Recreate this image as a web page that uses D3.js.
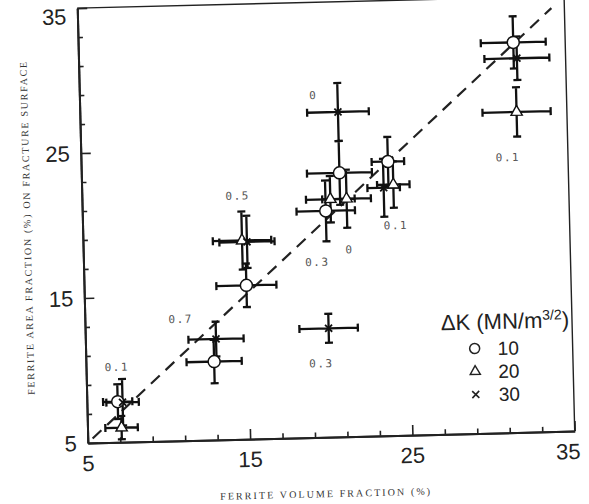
<!DOCTYPE html>
<html>
<head>
<meta charset="utf-8">
<script src="https://cdn.jsdelivr.net/npm/d3@7"></script>
<style>
  body { margin: 0; background: #fff; }
</style>
</head>
<body>
<svg id="chart" width="589" height="504"></svg>
<script>
// each point: [volume fraction, area fraction, +/- x err, +/- y err]
var k10 = [[31.8, 31.9, 2.0, 1.8], [20.9, 23.2, 2.0, 2.2], [23.9, 23.9, 1.0, 1.7],
           [20.0, 20.6, 1.8, 2.1], [15.0, 15.6, 1.85, 1.5], [12.9, 10.4, 1.7, 1.5],
           [6.9, 7.8, 0.9, 1.2]];
var k20 = [[31.9, 27.1, 2.1, 1.7], [24.2, 22.3, 1.0, 1.6], [20.3, 21.4, 1.5, 1.6],
           [21.3, 21.4, 1.5, 2.0], [14.8, 18.7, 1.8, 2.0], [7.1, 6.0, 1.0, 0.8]];
var k30 = [[32.0, 30.8, 2.0, 1.5], [20.9, 27.4, 1.9, 2.0], [23.6, 22.1, 1.0, 2.0],
           [15.1, 18.6, 1.7, 1.8], [13.05, 11.95, 1.7, 1.2], [20.0, 12.5, 1.8, 1.0],
           [7.2, 7.75, 1.0, 1.6]];

// R ratio labels written next to the groups
var rLabels = ["0.1", "0.1", "0", "0.5", "0.3", "0", "0.7", "0.3", "0.1"];
var rLabelX = [31.3, 24.3, 19.4, 14.6, 19.4, 21.4, 10.9, 19.5, 6.9];
var rLabelY = [24.0, 19.5, 28.6, 21.8, 17.1, 17.9, 13.4, 10.1, 10.2];

var majorTicks = [5, 15, 25, 35];
var minorTicks = [7, 9, 11, 13, 17, 19, 21, 23, 27, 29, 31, 33];
var legendK = ["10", "20", "30"];
var legendShape = ["circle", "triangle", "x"];
var equalityLine = [[5.3, 5.3], [34.2, 34.2]];

var svg = d3.select("#chart");

// the scanned figure sits slightly tilted
var g = svg.append("g").attr("transform", "rotate(-1.4)");

var x = d3.scaleLinear().domain([5, 35]).range([77, 564]);
var y = d3.scaleLinear().domain([5, 35]).range([445, 10]);

// frame top/right
g.append("path")
    .attr("d", `M${x(5)},${y(35)}H${x(35)}V${y(5)}`)
    .attr("fill", "none").attr("stroke", "#222").attr("stroke-width", 1.4);

var xMinor = d3.axisBottom(x).tickValues(minorTicks).tickSizeInner(-5).tickSizeOuter(0).tickFormat("");
var xMajor = d3.axisBottom(x).tickValues(majorTicks).tickSizeInner(-10).tickSizeOuter(0).tickFormat("");
var yMinor = d3.axisLeft(y).tickValues(minorTicks).tickSizeInner(-5).tickSizeOuter(0).tickFormat("");
var yMajor = d3.axisLeft(y).tickValues(majorTicks).tickSizeInner(-10).tickSizeOuter(0).tickFormat("");

[xMinor, xMajor].forEach(function (ax) {
  g.append("g").attr("transform", `translate(0,${y(5)})`).call(ax)
    .call(s => s.selectAll("line").attr("stroke", "#222").attr("stroke-width", 1.6))
    .call(s => s.select(".domain").attr("stroke", "#222").attr("stroke-width", 2));
});
[yMinor, yMajor].forEach(function (ax) {
  g.append("g").attr("transform", `translate(${x(5)},0)`).call(ax)
    .call(s => s.selectAll("line").attr("stroke", "#222").attr("stroke-width", 1.6))
    .call(s => s.select(".domain").attr("stroke", "#222").attr("stroke-width", 2));
});

// tick labels
g.selectAll(".xlab").data(majorTicks).enter().append("text")
    .attr("x", d => x(d) - (d === 35 ? 7 : 0))
    .attr("y", y(5) + 28)
    .attr("text-anchor", "middle")
    .attr("font-family", "Liberation Sans, Arial, sans-serif")
    .attr("font-size", 22).attr("fill", "#222")
    .text(d => d);
g.selectAll(".ylab").data(majorTicks).enter().append("text")
    .attr("x", x(5) - 11)
    .attr("y", d => y(d) + 8 + (d === 35 ? 8 : 0))
    .attr("text-anchor", "end")
    .attr("font-family", "Liberation Sans, Arial, sans-serif")
    .attr("font-size", 22).attr("fill", "#222")
    .text(d => d);

// axis titles
g.append("text")
    .attr("x", 313).attr("y", 505)
    .attr("text-anchor", "middle")
    .attr("font-family", "Liberation Serif, serif")
    .attr("font-size", 10).attr("fill", "#333")
    .attr("textLength", 210).attr("lengthAdjust", "spacing")
    .text("FERRITE VOLUME FRACTION (%)");
g.append("text")
    .attr("transform", "translate(25,229) rotate(-90)")
    .attr("text-anchor", "middle")
    .attr("font-family", "Liberation Serif, serif")
    .attr("font-size", 10).attr("fill", "#333")
    .attr("textLength", 333).attr("lengthAdjust", "spacing")
    .text("FERRITE AREA FRACTION (%) ON FRACTURE SURFACE");

// line of equality
g.append("path")
    .attr("d", d3.line().x(d => x(d[0])).y(d => y(d[1]))(equalityLine))
    .attr("fill", "none").attr("stroke", "#222").attr("stroke-width", 2.2)
    .attr("stroke-dasharray", "12,8");

// error bars
var all = k10.concat(k20, k30);
var cap = 4;
var eb = g.append("g").attr("stroke", "#111").attr("stroke-width", 2.3).attr("fill", "none");
eb.selectAll("path").data(all).enter().append("path")
    .attr("d", function (d) {
      var cx = x(d[0]), cy = y(d[1]);
      var x0 = x(d[0] - d[2]), x1 = x(d[0] + d[2]);
      var y0 = y(d[1] - d[3]), y1 = y(d[1] + d[3]);
      return `M${x0},${cy}H${x1}M${cx},${y0}V${y1}` +
             `M${x0},${cy - cap}V${cy + cap}M${x1},${cy - cap}V${cy + cap}` +
             `M${cx - cap},${y0}H${cx + cap}M${cx - cap},${y1}H${cx + cap}`;
    });

// markers
g.selectAll(".m10").data(k10).enter().append("circle")
    .attr("cx", d => x(d[0])).attr("cy", d => y(d[1])).attr("r", 6)
    .attr("fill", "#fff").attr("stroke", "#111").attr("stroke-width", 1.5);
g.selectAll(".m20").data(k20).enter().append("path")
    .attr("transform", d => `translate(${x(d[0])},${y(d[1])})`)
    .attr("d", d3.symbol(d3.symbolTriangle, 55))
    .attr("fill", "#fff").attr("stroke", "#111").attr("stroke-width", 1.4);
g.selectAll(".m30").data(k30).enter().append("path")
    .attr("transform", d => `translate(${x(d[0])},${y(d[1])})`)
    .attr("d", "M-3.5,-3.5L3.5,3.5M-3.5,3.5L3.5,-3.5")
    .attr("fill", "none").attr("stroke", "#111").attr("stroke-width", 1.8);

// R labels
g.selectAll(".rlab").data(rLabels).enter().append("text")
    .attr("x", (d, i) => x(rLabelX[i]))
    .attr("y", (d, i) => y(rLabelY[i]) + 4)
    .attr("text-anchor", "middle")
    .attr("font-family", "DejaVu Sans Mono, monospace")
    .attr("font-size", 11).attr("letter-spacing", 1.5).attr("fill", "#555")
    .text(d => d);

// legend
var lg = g.append("g").attr("font-family", "Liberation Sans, Arial, sans-serif").attr("fill", "#222");
var title = lg.append("text").attr("x", 497).attr("y", 341)
    .attr("text-anchor", "middle").attr("font-size", 22);
title.append("tspan").text("\u0394K (MN/m");
title.append("tspan").attr("font-size", 14).attr("dy", -8).text("3/2");
title.append("tspan").attr("dy", 8).text(")");

legendK.forEach(function (k, i) {
  var cy = 360 + i * 23;
  var sx = 466;
  if (legendShape[i] === "circle") {
    lg.append("circle").attr("cx", sx).attr("cy", cy).attr("r", 5)
      .attr("fill", "#fff").attr("stroke", "#222").attr("stroke-width", 1.5);
  } else if (legendShape[i] === "triangle") {
    lg.append("path").attr("transform", `translate(${sx},${cy})`)
      .attr("d", d3.symbol(d3.symbolTriangle, 45))
      .attr("fill", "#fff").attr("stroke", "#222").attr("stroke-width", 1.4);
  } else {
    lg.append("path").attr("transform", `translate(${sx},${cy})`)
      .attr("d", "M-3.5,-3.5L3.5,3.5M-3.5,3.5L3.5,-3.5")
      .attr("stroke", "#222").attr("stroke-width", 1.6);
  }
  lg.append("text").attr("x", 489).attr("y", cy + 7)
    .attr("font-size", 19).text(k);
});
</script>
</body>
</html>
